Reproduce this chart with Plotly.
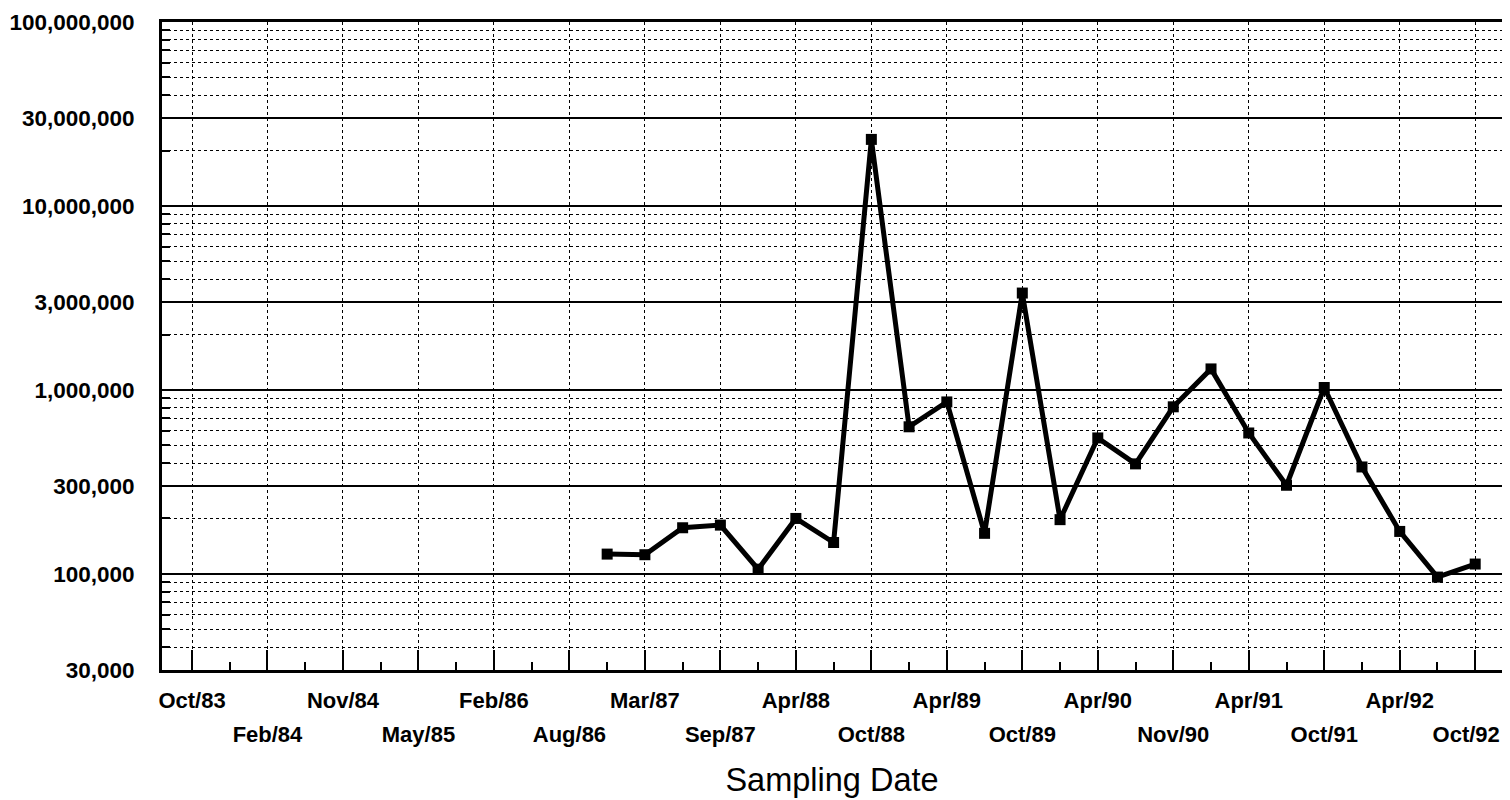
import plotly.graph_objects as go

# ---- data ----
tick_labels = ["Oct/83", "Feb/84", "Nov/84", "May/85", "Feb/86", "Aug/86",
               "Mar/87", "Sep/87", "Apr/88", "Oct/88", "Apr/89", "Oct/89",
               "Apr/90", "Nov/90", "Apr/91", "Oct/91", "Apr/92", "Oct/92"]
tick_positions = [0, 2, 4, 6, 8, 10, 12, 14, 16, 18, 20, 22, 24, 26, 28, 30, 32, 34]
sample_index = [11, 12, 13, 14, 15, 16, 17, 18, 19, 20, 21, 22,
                23, 24, 25, 26, 27, 28, 29, 30, 31, 32, 33, 34]
counts = [128000, 127000, 178000, 184000, 106000, 200000, 148000, 23000000,
          630000, 860000, 166000, 3360000, 197000, 548000, 396000, 809000,
          1300000, 583000, 303000, 1030000, 381000, 170000, 96000, 113000]
y_tick_values = [30000, 100000, 300000, 1000000, 3000000, 10000000, 30000000, 100000000]
y_tick_text = ["30,000", "100,000", "300,000", "1,000,000", "3,000,000",
               "10,000,000", "30,000,000", "100,000,000"]
minor_mult = [2, 4, 5, 6, 7, 8, 9]
decades = [10000, 100000, 1000000, 10000000]

y_minor = [m * d for d in decades for m in minor_mult if 30000 < m * d < 100000000]
minor_x = [p + 1 for p in tick_positions[:-1]]

row1_pos = tick_positions[0::2]
row1_lab = tick_labels[0::2]
row2_pos = tick_positions[1::2][:-1]
row2_lab = tick_labels[1::2][:-1]
last_pos = [tick_positions[-1]]
last_lab = [tick_labels[-1]]

FONT = "Liberation Sans"
TICKSIZE = 22
xr = [-0.795, 34.71]

fig = go.Figure()
fig.add_trace(go.Scatter(
    x=sample_index, y=counts, mode="lines+markers",
    line=dict(color="black", width=5),
    marker=dict(symbol="square", size=11, color="black"),
    showlegend=False, xaxis="x", yaxis="y"))
for ax in ("x2", "x3"):
    fig.add_trace(go.Scatter(
        x=sample_index, y=counts, mode="markers",
        marker=dict(opacity=0), showlegend=False, hoverinfo="skip",
        xaxis=ax, yaxis="y"))

common_x = dict(
    range=xr, tickmode="array", automargin=False,
    tickfont=dict(size=TICKSIZE, weight="bold", family=FONT),
    ticks="inside", ticklen=20, tickwidth=2, tickcolor="black",
    showgrid=True, gridcolor="black", gridwidth=1, griddash="dot",
    zeroline=False, ticklabeloverflow="allow",
)

fig.update_layout(
    width=1502, height=792,
    margin=dict(l=154, r=8, t=14, b=130),
    paper_bgcolor="white", plot_bgcolor="white",
    font=dict(family=FONT, color="black"),
    xaxis=dict(
        **common_x, tickvals=row1_pos, ticktext=row1_lab,
        showline=True, linecolor="black", linewidth=3, mirror=True,
        ticklabelstandoff=9,
        minor=dict(tickvals=minor_x, ticks="inside", ticklen=8, tickwidth=2,
                   tickcolor="black", showgrid=False),
    ),
    xaxis2=dict(
        **common_x, overlaying="x", side="bottom", anchor="y",
        tickvals=row2_pos, ticktext=row2_lab, showline=False,
        ticklabelstandoff=49,
        title=dict(text="Sampling Date", font=dict(size=32.5, family=FONT), standoff=22),
    ),
    xaxis3=dict(
        **{**common_x, "ticks": "inside"}, overlaying="x", side="bottom", anchor="y",
        tickvals=last_pos, ticktext=last_lab, showline=False,
        ticklabelstandoff=49, ticklabelshift=-9,
    ),
    yaxis=dict(
        type="log", range=[4.4771, 8.0], automargin=False,
        tickmode="array", tickvals=y_tick_values, ticktext=y_tick_text,
        tickfont=dict(size=22.5, weight="bold", family=FONT),
        ticks="", showgrid=True, gridcolor="black", gridwidth=1.5,
        zeroline=False, showline=True, linecolor="black", linewidth=3, mirror=True,
        ticklabelstandoff=20,
        minor=dict(tickvals=y_minor, showgrid=True, gridcolor="black",
                   gridwidth=1.2, griddash="dot", ticks="inside",
                   ticklen=8, tickwidth=2, tickcolor="black"),
    ),
)

fig.write_html("out.html")
